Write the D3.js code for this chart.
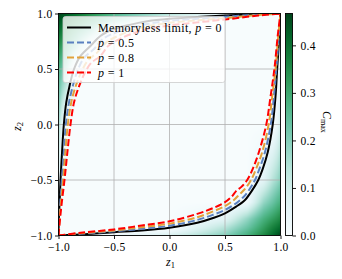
<!DOCTYPE html>
<html lang="en">
<head>
<meta charset="utf-8">
<title>Cmax heatmap</title>
<script src="https://cdn.jsdelivr.net/npm/d3@7"></script>
<style>
  body { margin: 0; background: #fff; }
  text { font-family: "Liberation Serif", "DejaVu Serif", serif; }
</style>
</head>
<body>
<script>
// grid levels for z1 and z2 (same in both directions)
var zLevels = [-1, -0.97, -0.93, -0.85, -0.7, -0.5, 0, 0.5, 0.7, 0.85, 0.93, 0.97, 1];

// C_max values, rows = z2 (from -1 up), columns = z1 (from -1 right)
var cmaxGrid = [
  [0, 0, 0.005, 0.01, 0.02, 0.035, 0.09, 0.2, 0.28, 0.36, 0.41, 0.44, 0.47],
  [0.002, 0, 0, 0, 0, 0, 0.04, 0.17, 0.26, 0.34, 0.39, 0.42, 0.44],
  [0.007, 0, 0, 0, 0, 0, 0, 0.14, 0.23, 0.32, 0.37, 0.39, 0.41],
  [0.015, 0, 0, 0, 0, 0, 0, 0.06, 0.18, 0.28, 0.32, 0.34, 0.36],
  [0.03, 0, 0, 0, 0, 0, 0, 0, 0.02, 0.18, 0.23, 0.26, 0.28],
  [0.06, 0, 0, 0, 0, 0, 0, 0, 0, 0.06, 0.14, 0.17, 0.2],
  [0.16, 0.07, 0, 0, 0, 0, 0, 0, 0, 0, 0, 0.04, 0.09],
  [0.28, 0.23, 0.18, 0, 0, 0, 0, 0, 0, 0, 0, 0, 0.035],
  [0.35, 0.31, 0.28, 0.19, 0.01, 0, 0, 0, 0, 0, 0, 0, 0.02],
  [0.41, 0.38, 0.35, 0.29, 0.19, 0, 0, 0, 0, 0, 0, 0, 0.01],
  [0.44, 0.42, 0.4, 0.35, 0.28, 0.18, 0, 0, 0, 0, 0, 0, 0.005],
  [0.46, 0.44, 0.42, 0.38, 0.31, 0.23, 0.07, 0, 0, 0, 0, 0, 0],
  [0.47, 0.46, 0.44, 0.41, 0.35, 0.28, 0.16, 0.06, 0.03, 0.015, 0.007, 0.002, 0]
];

// curves as [z1, z2], upper-left and lower-right branches
var memorylessUL = [[-1,-1],[-0.997,-0.85],[-0.99,-0.7],[-0.982,-0.5],[-0.968,-0.25],[-0.952,0],[-0.93,0.2],[-0.9,0.35],[-0.86,0.5],[-0.8,0.62],[-0.71,0.71],[-0.62,0.8],[-0.5,0.86],[-0.35,0.9],[-0.2,0.93],[0,0.952],[0.25,0.968],[0.5,0.982],[0.7,0.99],[0.85,0.997],[1,1]];
var memorylessLR = [[-1,-1],[-0.8,-0.99],[-0.5,-0.97],[-0.25,-0.955],[0,-0.93],[0.25,-0.885],[0.4,-0.84],[0.5,-0.8],[0.6,-0.74],[0.68,-0.68],[0.74,-0.6],[0.8,-0.5],[0.84,-0.4],[0.885,-0.25],[0.93,0],[0.955,0.25],[0.97,0.5],[0.99,0.8],[1,1]];
var p05UL = [[-1,-1],[-0.994,-0.85],[-0.984,-0.7],[-0.97,-0.5],[-0.952,-0.25],[-0.934,0],[-0.905,0.2],[-0.87,0.35],[-0.83,0.48],[-0.77,0.6],[-0.68,0.68],[-0.6,0.77],[-0.48,0.83],[-0.35,0.87],[-0.2,0.905],[0,0.934],[0.25,0.952],[0.5,0.97],[0.7,0.984],[0.85,0.994],[1,1]];
var p05LR = [[-1,-1],[-0.8,-0.985],[-0.5,-0.962],[-0.25,-0.94],[0,-0.912],[0.25,-0.86],[0.4,-0.81],[0.5,-0.77],[0.6,-0.71],[0.66,-0.66],[0.71,-0.6],[0.77,-0.5],[0.81,-0.4],[0.86,-0.25],[0.912,0],[0.94,0.25],[0.962,0.5],[0.985,0.8],[1,1]];
var p08UL = [[-1,-1],[-0.99,-0.85],[-0.978,-0.7],[-0.958,-0.5],[-0.938,-0.25],[-0.916,0],[-0.885,0.2],[-0.85,0.33],[-0.8,0.46],[-0.74,0.57],[-0.65,0.65],[-0.57,0.74],[-0.46,0.8],[-0.33,0.85],[-0.2,0.885],[0,0.916],[0.25,0.938],[0.5,0.958],[0.7,0.978],[0.85,0.99],[1,1]];
var p08LR = [[-1,-1],[-0.8,-0.98],[-0.5,-0.955],[-0.25,-0.925],[0,-0.893],[0.25,-0.835],[0.4,-0.78],[0.5,-0.735],[0.58,-0.68],[0.63,-0.63],[0.68,-0.58],[0.735,-0.5],[0.78,-0.4],[0.835,-0.25],[0.893,0],[0.925,0.25],[0.955,0.5],[0.98,0.8],[1,1]];
var p1UL = [[-1,-1],[-0.986,-0.85],[-0.97,-0.7],[-0.946,-0.5],[-0.92,-0.25],[-0.892,0],[-0.86,0.2],[-0.82,0.33],[-0.77,0.45],[-0.71,0.55],[-0.62,0.62],[-0.55,0.71],[-0.45,0.77],[-0.33,0.82],[-0.2,0.86],[0,0.892],[0.25,0.92],[0.5,0.946],[0.7,0.97],[0.85,0.986],[1,1]];
var p1LR = [[-1,-1],[-0.8,-0.975],[-0.5,-0.945],[-0.25,-0.91],[0,-0.872],[0.25,-0.805],[0.4,-0.75],[0.5,-0.7],[0.56,-0.65],[0.6,-0.6],[0.65,-0.56],[0.7,-0.5],[0.75,-0.4],[0.805,-0.25],[0.872,0],[0.91,0.25],[0.945,0.5],[0.975,0.8],[1,1]];

var seriesColors = ["#000000", "#5a80c0", "#e2a23a", "#ff0000"];
var axisTicks = [-1, -0.5, 0, 0.5, 1];
var cbarTicks = [0, 0.1, 0.2, 0.3, 0.4];
var cbarMax = 0.467;

var w = 342, h = 279;
var pLeft = 58.5, pRight = 280.5, pTop = 13.5, pBottom = 235.5;

var svg = d3.select("body").append("svg")
  .attr("width", w).attr("height", h);

var x = d3.scaleLinear().domain([-1, 1]).range([pLeft, pRight]);
var y = d3.scaleLinear().domain([-1, 1]).range([pBottom, pTop]);
var cscale = d3.scaleSequential(d3.interpolateBuGn).domain([0, cbarMax]);

// heatmap drawn on a canvas, bilinear shading between grid nodes
var pw = Math.round(pRight - pLeft), ph = Math.round(pBottom - pTop);
var canvas = document.createElement("canvas");
canvas.width = pw; canvas.height = ph;
var ctx = canvas.getContext("2d");
var img = ctx.createImageData(pw, ph);
function cell(z) {
  var k = d3.bisectRight(zLevels, z) - 1;
  k = Math.max(0, Math.min(zLevels.length - 2, k));
  var t = (z - zLevels[k]) / (zLevels[k + 1] - zLevels[k]);
  return [k, t];
}
for (var py = 0; py < ph; py++) {
  var z2 = y.invert(pTop + py + 0.5);
  var ci = cell(z2);
  for (var px = 0; px < pw; px++) {
    var z1 = x.invert(pLeft + px + 0.5);
    var cj = cell(z1);
    var i = ci[0], ti = ci[1], j = cj[0], tj = cj[1];
    var v = (1 - ti) * ((1 - tj) * cmaxGrid[i][j] + tj * cmaxGrid[i][j + 1]) +
            ti * ((1 - tj) * cmaxGrid[i + 1][j] + tj * cmaxGrid[i + 1][j + 1]);
    var c = d3.rgb(cscale(v));
    var o = (py * pw + px) * 4;
    img.data[o] = c.r; img.data[o + 1] = c.g; img.data[o + 2] = c.b; img.data[o + 3] = 255;
  }
}
ctx.putImageData(img, 0, 0);
svg.append("image")
  .attr("x", pLeft).attr("y", pTop)
  .attr("width", pw).attr("height", ph)
  .attr("preserveAspectRatio", "none")
  .attr("href", canvas.toDataURL());

svg.append("clipPath").attr("id", "clip")
  .append("rect").attr("x", pLeft).attr("y", pTop).attr("width", pRight - pLeft).attr("height", pBottom - pTop);

// grid
var grid = svg.append("g").attr("stroke", "#b0b0b0").attr("stroke-width", 0.8);
grid.selectAll("line.vx").data(axisTicks.slice(1, -1)).enter().append("line")
  .attr("x1", function(d){return x(d);}).attr("x2", function(d){return x(d);})
  .attr("y1", pTop).attr("y2", pBottom);
grid.selectAll("line.hy").data(axisTicks.slice(1, -1)).enter().append("line")
  .attr("y1", function(d){return y(d);}).attr("y2", function(d){return y(d);})
  .attr("x1", pLeft).attr("x2", pRight);

// curves
var line = d3.line()
  .x(function(d){return x(d[0]);})
  .y(function(d){return y(d[1]);})
  .curve(d3.curveCatmullRom.alpha(0.5));

var curves = [
  [memorylessUL, memorylessLR],
  [p05UL, p05LR],
  [p08UL, p08LR],
  [p1UL, p1LR]
];
var curveG = svg.append("g").attr("clip-path", "url(#clip)");
curves.forEach(function(c, k) {
  curveG.selectAll(null).data(c).enter().append("path")
    .attr("d", line)
    .attr("fill", "none")
    .attr("stroke", seriesColors[k])
    .attr("stroke-width", 2)
    .attr("stroke-dasharray", k === 0 ? null : "7,3");
});

// frame
svg.append("rect")
  .attr("x", pLeft).attr("y", pTop).attr("width", pRight - pLeft).attr("height", pBottom - pTop)
  .attr("fill", "none").attr("stroke", "#000").attr("stroke-width", 0.9);

// axes
var fmt = d3.format(".1f");
var xAxis = svg.append("g").attr("transform", "translate(0," + pBottom + ")")
  .call(d3.axisBottom(x).tickValues(axisTicks).tickFormat(fmt).tickSize(3.5).tickSizeOuter(0));
var yAxis = svg.append("g").attr("transform", "translate(" + pLeft + ",0)")
  .call(d3.axisLeft(y).tickValues(axisTicks).tickFormat(fmt).tickSize(3.5).tickSizeOuter(0));
[xAxis, yAxis].forEach(function(a) {
  a.select(".domain").remove();
  a.selectAll("line").attr("stroke", "#000").attr("stroke-width", 0.9);
  a.selectAll("text").attr("font-size", "11.5px").attr("fill", "#000")
    .attr("letter-spacing", "0.3px")
    .style("font-family", "'Liberation Serif', serif");
});
xAxis.selectAll("text").attr("dy", "0.8em").attr("y", 6);
yAxis.selectAll("text").attr("x", -6);

// axis labels
var xl = svg.append("text").attr("x", 166).attr("y", 266).attr("font-size", "12px");
xl.append("tspan").attr("font-style", "italic").text("z");
xl.append("tspan").attr("font-size", "8.5px").attr("dy", 2).text("1");
var yl = svg.append("text").attr("transform", "translate(21,131) rotate(-90)").attr("font-size", "12px");
yl.append("tspan").attr("font-style", "italic").text("z");
yl.append("tspan").attr("font-size", "8.5px").attr("dy", 2).text("2");

// legend
var lg = svg.append("g");
lg.append("rect").attr("x", 63).attr("y", 16.5).attr("width", 162).attr("height", 66)
  .attr("rx", 2.5).attr("fill", "#fff").attr("fill-opacity", 0.8)
  .attr("stroke", "#cccccc").attr("stroke-width", 0.8);
var legendLabels = [["Memoryless limit, ", "0"], ["", "0.5"], ["", "0.8"], ["", "1"]];
legendLabels.forEach(function(l, k) {
  var yy = 27.5 + k * 15;
  lg.append("line").attr("x1", 67).attr("x2", 91).attr("y1", yy).attr("y2", yy)
    .attr("stroke", seriesColors[k]).attr("stroke-width", 2)
    .attr("stroke-dasharray", k === 0 ? null : "7,3");
  var t = lg.append("text").attr("x", 98).attr("y", yy + 4).attr("font-size", "12px")
    .attr("letter-spacing", "0.35px");
  if (l[0]) t.append("tspan").text(l[0]);
  t.append("tspan").attr("font-style", "italic").text("p");
  t.append("tspan").text(" = " + l[1]);
});

// colorbar
var cbx = 285.5, cbw = 7;
var cy = d3.scaleLinear().domain([0, cbarMax]).range([pBottom, pTop]);
var grad = svg.append("defs").append("linearGradient").attr("id", "cbar")
  .attr("x1", 0).attr("y1", 1).attr("x2", 0).attr("y2", 0);
d3.range(0, 1.0001, 0.1).forEach(function(s) {
  grad.append("stop").attr("offset", s).attr("stop-color", cscale(s * cbarMax));
});
svg.append("rect").attr("x", cbx).attr("y", pTop).attr("width", cbw).attr("height", pBottom - pTop)
  .attr("fill", "url(#cbar)").attr("stroke", "#000").attr("stroke-width", 0.9);
var cAxis = svg.append("g").attr("transform", "translate(" + (cbx + cbw) + ",0)")
  .call(d3.axisRight(cy).tickValues(cbarTicks).tickFormat(fmt).tickSize(3.5).tickSizeOuter(0));
cAxis.select(".domain").remove();
cAxis.selectAll("line").attr("stroke", "#000").attr("stroke-width", 0.9);
cAxis.selectAll("text").attr("font-size", "11.5px").attr("x", 8).attr("fill", "#000")
  .attr("letter-spacing", "0.3px")
  .style("font-family", "'Liberation Serif', serif");

var cl = svg.append("text").attr("transform", "translate(323,111) rotate(90)").attr("font-size", "12px");
cl.append("tspan").attr("font-style", "italic").text("C");
cl.append("tspan").attr("font-size", "8px").attr("dy", 2).text("max");
</script>
</body>
</html>
